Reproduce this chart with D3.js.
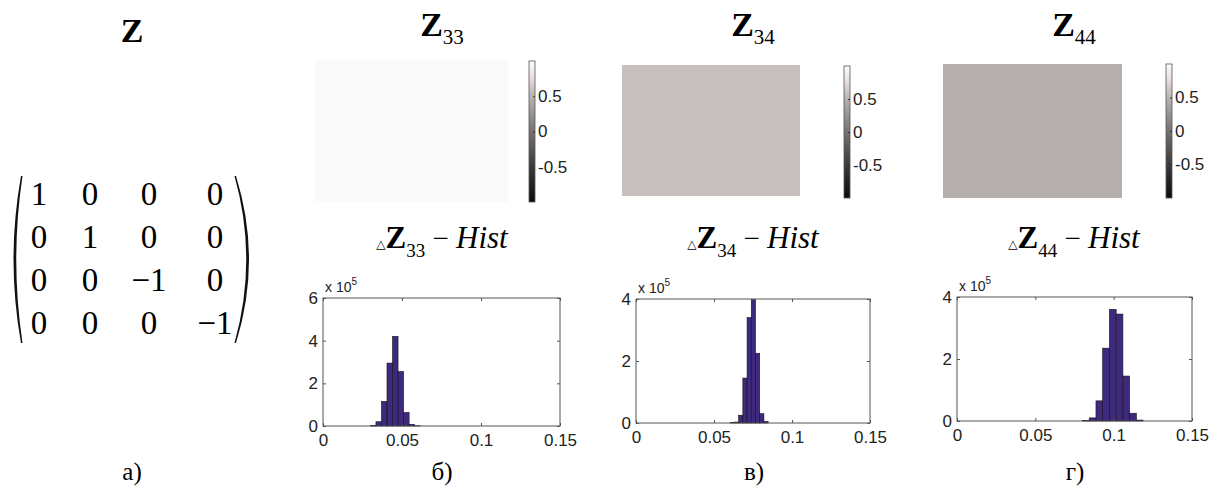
<!DOCTYPE html>
<html>
<head>
<meta charset="utf-8">
<script src="https://cdn.jsdelivr.net/npm/d3@7"></script>
<style>
  body { margin: 0; background: #fff; }
  svg { display: block; }
  .serif { font-family: "Liberation Serif", "Times New Roman", Times, serif; }
  .sans { font-family: "Liberation Sans", Arial, Helvetica, sans-serif; }
</style>
</head>
<body>
<div class="chart"></div>
<script>
// ---- data ----
var matrixZ = [[1, 0, 0, 0], [0, 1, 0, 0], [0, 0, -1, 0], [0, 0, 0, -1]];
var panelLabels = ["а)", "б)", "в)", "г)"];
var elementIdx = ["33", "34", "44"];
var imageValues = [0.98, 0.58, 0.46];
var colorbarTicks = [-0.5, 0, 0.5];
var colorStops = [-1, -0.5, 0, 0.5, 0.75, 1];
var colorStopColors = ["#0c0c0c", "#3c3a3a", "#777272", "#b9b3b1", "#e6dcda", "#fdfdfd"];

var histTicksX = [0, 0.05, 0.1, 0.15];
var histMaxY = [6, 4, 4];
var histTicksY = [[0, 2, 4, 6], [0, 2, 4], [0, 2, 4]];

// bin edges and counts (x 10^5)
var edges33 = [0.0300, 0.0335, 0.0370, 0.0405, 0.0440, 0.0475, 0.0510, 0.0545, 0.0580, 0.0615];
var counts33 = [0.02, 0.2, 1.15, 2.95, 4.2, 2.55, 0.63, 0.08, 0.01];
var edges34 = [0.0604, 0.0631, 0.0658, 0.0685, 0.0712, 0.0739, 0.0766, 0.0793, 0.0820, 0.0847];
var counts34 = [0.01, 0.03, 0.25, 1.45, 3.4, 3.98, 2.25, 0.3, 0.05];
var edges44 = [0.0801, 0.0844, 0.0887, 0.0930, 0.0973, 0.1016, 0.1059, 0.1102, 0.1145, 0.1188];
var counts44 = [0.02, 0.1, 0.65, 2.35, 3.6, 3.45, 1.45, 0.25, 0.03];

var histEdges = [edges33, edges34, edges44];
var histCounts = [counts33, counts34, counts44];

// ---- layout ----
var svgWidth = 1215;
var svgHeight = 496;

var cols = [
  { cx: 442, img: [315, 60, 193, 142], cb: [529, 61, 6, 141], hist: [323, 298, 237, 128] },
  { cx: 753, img: [622, 65, 178, 131], cb: [844, 66, 6, 132], hist: [636, 299, 234, 124] },
  { cx: 1074, img: [943, 64, 179, 134], cb: [1166, 64, 6, 134], hist: [957, 297, 235, 124] }
];

var svg = d3.select(".chart")
  .append("svg")
  .attr("width", svgWidth)
  .attr("height", svgHeight);

var color = d3.scaleLinear().domain(colorStops).range(colorStopColors);

// gradient for colorbars
var grad = svg.append("defs").append("linearGradient")
  .attr("id", "cbgrad")
  .attr("x1", 0).attr("y1", 1).attr("x2", 0).attr("y2", 0);
grad.selectAll("stop")
  .data(colorStops)
  .enter()
  .append("stop")
  .attr("offset", d => (d + 1) / 2)
  .attr("stop-color", d => color(d));

// ---- panel a: matrix ----
svg.append("text")
  .attr("class", "serif")
  .attr("x", 132).attr("y", 42)
  .attr("text-anchor", "middle")
  .style("font-weight", "bold").style("font-size", "34px")
  .text("Z");

var colCenters = [39, 90, 149, 215];
var rowY = d3.scaleLinear().domain([0, 3]).range([205, 334]);

matrixZ.forEach(function (row, r) {
  svg.selectAll(".m" + r)
    .data(row)
    .enter()
    .append("text")
    .attr("class", "serif m" + r)
    .attr("x", (d, c) => colCenters[c])
    .attr("y", rowY(r))
    .attr("text-anchor", "middle")
    .style("font-size", "33px")
    .text(d => d < 0 ? "\u2212" + Math.abs(d) : d);
});

svg.append("path")
  .attr("d", "M21,176 Q6,259.5 21,343 L22.5,343 Q10,259.5 22.5,176 Z")
  .attr("fill", "#111");
svg.append("path")
  .attr("d", "M236,176 Q262,259.5 236,343 L234.5,343 Q258,259.5 234.5,176 Z")
  .attr("fill", "#111");

// ---- panels b, c, d ----
cols.forEach(function (col, i) {
  // title
  var t = svg.append("text")
    .attr("class", "serif")
    .attr("x", col.cx).attr("y", 36)
    .attr("text-anchor", "middle");
  t.append("tspan").style("font-weight", "bold").style("font-size", "34px").text("Z");
  t.append("tspan").attr("dy", 8).style("font-size", "21px").text(elementIdx[i]);

  // image
  svg.append("rect")
    .attr("x", col.img[0]).attr("y", col.img[1])
    .attr("width", col.img[2]).attr("height", col.img[3])
    .attr("fill", color(imageValues[i]));

  // colorbar
  var cbY = d3.scaleLinear().domain([-1, 1]).range([col.cb[1] + col.cb[3], col.cb[1]]);
  svg.append("rect")
    .attr("x", col.cb[0]).attr("y", col.cb[1])
    .attr("width", col.cb[2]).attr("height", col.cb[3])
    .attr("fill", "url(#cbgrad)")
    .attr("stroke", "#555").attr("stroke-width", 0.8);
  var cbAxis = svg.append("g")
    .attr("transform", `translate(${col.cb[0] + col.cb[2]}, 0)`)
    .call(d3.axisRight(cbY).tickValues(colorbarTicks).tickFormat(d => String(d))
      .tickSizeInner(-2).tickSizeOuter(0).tickPadding(3));
  cbAxis.attr("font-family", null);
  cbAxis.select(".domain").remove();
  cbAxis.selectAll("line").attr("stroke", "#333");
  cbAxis.selectAll("text")
    .attr("class", "sans")
    .style("font-size", "17px").attr("fill", "#222");

  // histogram title
  var ht = svg.append("text")
    .attr("class", "serif")
    .attr("x", col.cx).attr("y", 248)
    .attr("text-anchor", "middle");
  ht.append("tspan").style("font-family", "'DejaVu Sans', sans-serif").style("font-size", "12px").text("\u25B3");
  ht.append("tspan").style("font-weight", "bold").style("font-size", "31px").text("Z");
  ht.append("tspan").attr("dy", 9).style("font-size", "19px").text(elementIdx[i]);
  ht.append("tspan").attr("dy", -9).style("font-size", "29px").text(" \u2212 ");
  ht.append("tspan").style("font-style", "italic").style("font-size", "31px").text("Hist");

  // histogram
  var hx = col.hist[0], hy = col.hist[1], hw = col.hist[2], hh = col.hist[3];
  var xScale = d3.scaleLinear().domain([0, 0.15]).range([hx, hx + hw]);
  var yScale = d3.scaleLinear().domain([0, histMaxY[i]]).range([hy + hh, hy]);

  var edges = histEdges[i];
  svg.append("g").selectAll("rect")
    .data(histCounts[i])
    .enter()
    .append("rect")
    .attr("x", (d, j) => xScale(edges[j]))
    .attr("width", (d, j) => xScale(edges[j + 1]) - xScale(edges[j]))
    .attr("y", d => yScale(d))
    .attr("height", d => yScale(0) - yScale(d))
    .attr("fill", "#3d2a7d")
    .attr("stroke", "#151020")
    .attr("stroke-width", 0.6);

  svg.append("rect")
    .attr("x", hx).attr("y", hy).attr("width", hw).attr("height", hh)
    .attr("fill", "none").attr("stroke", "#555").attr("stroke-width", 1);

  var bottom = svg.append("g")
    .attr("transform", `translate(0, ${hy + hh})`)
    .call(d3.axisBottom(xScale).tickValues(histTicksX).tickFormat(d => String(d))
      .tickSizeInner(-3).tickSizeOuter(0).tickPadding(8));
  var top = svg.append("g")
    .attr("transform", `translate(0, ${hy})`)
    .call(d3.axisTop(xScale).tickValues(histTicksX).tickFormat("").tickSizeInner(-3).tickSizeOuter(0));
  var left = svg.append("g")
    .attr("transform", `translate(${hx}, 0)`)
    .call(d3.axisLeft(yScale).tickValues(histTicksY[i]).tickFormat(d => String(d))
      .tickSizeInner(-3).tickSizeOuter(0).tickPadding(5));
  var right = svg.append("g")
    .attr("transform", `translate(${hx + hw}, 0)`)
    .call(d3.axisRight(yScale).tickValues(histTicksY[i]).tickFormat("").tickSizeInner(-3).tickSizeOuter(0));

  [bottom, top, left, right].forEach(function (g) {
    g.attr("font-family", null);
    g.select(".domain").remove();
    g.selectAll("line").attr("stroke", "#555");
    g.selectAll("text")
      .attr("class", "sans")
      .style("font-size", "17px").attr("fill", "#222");
  });

  var mult = svg.append("text")
    .attr("class", "sans")
    .attr("x", hx + 2).attr("y", hy - 6)
    .style("font-size", "14px").attr("fill", "#222");
  mult.append("tspan").text("x 10");
  mult.append("tspan").attr("dy", -7).style("font-size", "10px").text("5");
});

// panel labels
var labelX = [132, 442, 754, 1075];
svg.selectAll(".plabel")
  .data(panelLabels)
  .enter()
  .append("text")
  .attr("class", "serif plabel")
  .attr("x", (d, i) => labelX[i])
  .attr("y", 480)
  .attr("text-anchor", "middle")
  .style("font-size", "25px")
  .text(d => d);
</script>
</body>
</html>
